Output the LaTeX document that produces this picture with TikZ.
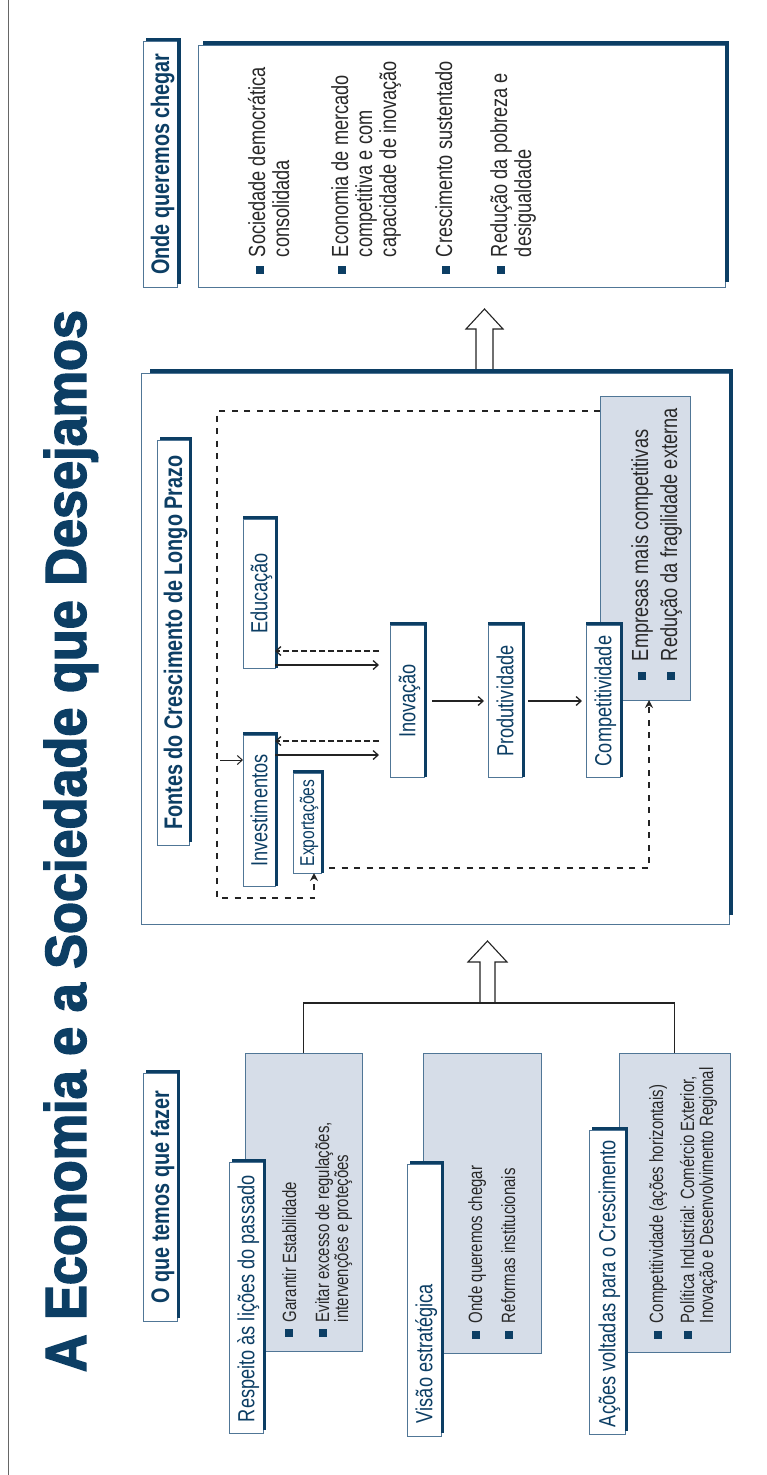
\documentclass[tikz,border=0pt]{standalone}
\usepackage{fontspec}
\usepackage{graphicx}
\setmainfont{Liberation Sans}[FakeStretch=0.78]
\newfontfamily\titlefont{Liberation Sans Bold}[FakeStretch=0.78, FakeBold=2.2]
\usetikzlibrary{arrows.meta}
\definecolor{navy}{RGB}{12,62,100}
\definecolor{bord}{RGB}{80,118,150}
\definecolor{lfill}{RGB}{214,221,232}
\definecolor{tgray}{RGB}{40,40,40}
\definecolor{lgray}{RGB}{35,35,35}
\newcommand\rt[1]{\rotatebox{90}{\rule{0pt}{0.72em}\smash{#1}}}
\newcommand\rtl[2]{\rotatebox{90}{\makebox[#1][l]{\rule{0pt}{0.72em}\smash{#2}}}}
\newcommand\lines[2]{\vtop{\baselineskip=#1\lineskiplimit=-\maxdimen\let\\\cr\halign{##\hfil\cr#2\crcr}}}
\newcommand\shd[3]{\draw[navy, line width=#2pt, line join=miter] ([xshift=#3pt, yshift=#2pt/2]#1.north west) -- ([xshift=#2pt/2, yshift=#2pt/2]#1.north east) -- ([xshift=#2pt/2, yshift=#3pt]#1.south east);}
\newcommand\bul[3]{\fill[navy] (#1-#3/2,#2-#3/2) rectangle (#1+#3/2,#2+#3/2);}
\begin{document}
\begin{tikzpicture}[x=1pt,y=-1pt,
  every node/.style={inner sep=0pt, outer sep=0pt},
  wbox/.style={draw=bord, fill=white, line width=0.9pt, rectangle},
  lbox/.style={draw=bord, fill=lfill, line width=0.9pt, rectangle},
  body/.style={font=\fontsize{23.3}{24}\selectfont, text=tgray},
  small/.style={font=\fontsize{19.2}{19}\selectfont, text=tgray},
  head/.style={font=\bfseries\fontsize{25.4}{26}\selectfont, text=navy},
  lab/.style={font=\fontsize{23.3}{24}\selectfont, text=navy},
  free/.style={rotate=90, anchor=base west},
  conn/.style={draw=lgray, line width=1.3pt},
  sarrow/.style={conn, -{Straight Barb[length=5pt,width=9pt]}},
  darrow/.style={conn, dash pattern=on 6pt off 3pt, -{Straight Barb[length=5pt,width=9pt]}},
  loopline/.style={draw=lgray, line width=2.6pt, dash pattern=on 6pt off 6.5pt},
  block/.style={draw=lgray, fill=white, line width=1.1pt, line join=miter}
]
\useasboundingbox (0,0) rectangle (766,1475);
% left rule
\draw[draw=gray!80!black, line width=1pt] (8,0) -- (8,1475);
% title
\node[font=\titlefont\fontsize{58}{58}\selectfont, text=navy] (title) at (65,841)
  {\rotatebox{90}{\resizebox{1062pt}{\height}{\rule{0pt}{0.72em}\smash{A Economia e a Sociedade que Desejamos}}}};

% ---------- top: Onde queremos chegar ----------
\node[wbox, head, minimum width=34pt, minimum height=246pt] (qhead) at (160,164) {\rt{Onde queremos chegar}};
\shd{qhead}{3.5}{3}
\node[wbox, minimum width=527pt, minimum height=242pt] (qbox) at (461.5,166) {};
\shd{qbox}{4}{5}
\node[body, free] (q1) at (265,257) {\lines{24pt}{Sociedade democrática\\consolidada}};
\node[body, free] (q2) at (348,257) {\lines{24pt}{Economia de mercado\\competitiva e com\\capacidade de inovação}};
\node[body, free] (q3) at (452,257) {Crescimento sustentado};
\node[body, free] (q4) at (507,257) {\lines{24pt}{Redução da pobreza e\\desigualdade}};
\bul{260}{270}{8}\bul{342}{270}{8}\bul{446}{270}{8}\bul{501}{270}{8}

% upper block arrow
\draw[block] (476,371) -- (476,329) -- (466,329) -- (484.5,309) -- (503,329) -- (493,329) -- (493,371) -- cycle;

% ---------- middle: Fontes ----------
\node[wbox, minimum width=588pt, minimum height=551pt] (mid) at (435,648.5) {};
\shd{mid}{4}{9}
\node[wbox, head, minimum width=32pt, minimum height=405pt] (fontes) at (173,642.5) {\rt{Fontes do Crescimento de Longo Prazo}};
\shd{fontes}{3}{3}

\node[lbox, minimum width=90pt, minimum height=304pt] (emp) at (645,548) {};
\node[body, free] (e1) at (648,661) {Empresas mais competitivas};
\node[body, free] (e2) at (677,661) {Redução da fragilidade externa};
\bul{642}{676}{8}\bul{671}{676}{8}

\node[wbox, lab, minimum width=32pt, minimum height=149pt] (edu) at (259,593.5) {\rt{Educação}};
\shd{edu}{3}{0}
\node[wbox, lab, minimum width=32pt, minimum height=151pt] (inv) at (259,810.5) {\rt{Investimentos}};
\shd{inv}{3}{0}
\node[wbox, lab, font=\fontsize{20}{20}\selectfont, minimum width=28pt, minimum height=100pt] (exp) at (307,823) {\rt{Exportações}};
\shd{exp}{3}{0}
\node[wbox, lab, minimum width=34pt, minimum height=152pt] (ino) at (407,701) {\rt{Inovação}};
\shd{ino}{3}{0}
\node[wbox, lab, minimum width=34pt, minimum height=152pt] (prod) at (505,701) {\rt{Produtividade}};
\shd{prod}{3}{0}
\node[wbox, lab, minimum width=34pt, minimum height=152pt] (comp) at (603,701) {\rt{Competitividade}};
\shd{comp}{3}{0}

% helper coordinates
\coordinate (xi) at (379,0);
\coordinate (ya) at (0,651);
\coordinate (yb) at (0,665);
\coordinate (yc) at (0,741);
\coordinate (yd) at (0,755);
\coordinate (lt) at (217,411);
\coordinate (lb) at (217,898);
\coordinate (xa) at (314,0);
\coordinate (ys) at (0,760);
\coordinate (s0) at (220,760);
\coordinate (e0) at (329,868);
\coordinate (xb) at (649,0);

\draw[sarrow] (edu.east |- yb) -- (xi |- yb);
\draw[darrow] (xi |- ya) -- (edu.east |- ya);
\draw[sarrow] (inv.east |- yd) -- (xi |- yd);
\draw[darrow] (xi |- yc) -- (inv.east |- yc);
\draw[sarrow] ([xshift=8pt]ino.east) -- ([xshift=-4pt]prod.west);
\draw[sarrow] ([xshift=6pt]prod.east) -- ([xshift=-4pt]comp.west);
\draw[conn, line width=1pt, -{Straight Barb[length=5pt,width=9pt]}] (s0) -- (inv.west |- ys);

\draw[loopline, -{Stealth[length=8pt,width=8pt]}] (emp.west |- lt) -- (lt) -- (lb) -- (xa |- lb) -- (xa |- exp.south);
\draw[loopline, -{Stealth[length=8pt,width=8pt]}] (e0) -- (xb |- e0) -- (xb |- emp.south);

% lower block arrow
\draw[block] (480,1003) -- (480,962) -- (468,962) -- (487.5,941) -- (507,962) -- (495,962) -- (495,1003) -- cycle;

% ---------- bottom: O que temos que fazer ----------
\node[wbox, head, minimum width=34pt, minimum height=248pt] (ohead) at (160,1197) {\rt{O que temos que fazer}};
\shd{ohead}{3}{3}

\node[lbox, minimum width=117pt, minimum height=298pt] (respL) at (303.5,1202) {};
\node[lbox, minimum width=118pt, minimum height=300pt] (visL) at (482,1203) {};
\node[lbox, minimum width=111pt, minimum height=299pt] (acoL) at (674.5,1202.5) {};

\coordinate (hl) at (0,1003);
\draw[conn] (respL.north) -- (respL.north |- hl) -- (acoL.north |- hl) -- (acoL.north);

\node[wbox, lab, minimum width=34pt, minimum height=271pt] (respT) at (246,1297.5) {\rtl{249pt}{Respeito às lições do passado}};
\shd{respT}{3}{3}
\node[wbox, lab, minimum width=34pt, minimum height=272pt] (visT) at (424,1300) {\rtl{246pt}{Visão estratégica}};
\shd{visT}{3}{3}
\node[wbox, lab, minimum width=36pt, minimum height=304pt] (acoT) at (607,1282) {\rtl{290pt}{Ações voltadas para o Crescimento}};
\shd{acoT}{3}{3}

\node[small, free] (r1) at (296,1322) {Garantir Estabilidade};
\node[small, free] (r2) at (329,1322) {\lines{19pt}{Evitar excesso de regulações,\\intervenções e proteções}};
\bul{289}{1333}{7.5}\bul{323}{1333}{7.5}
\node[small, free] (v1) at (482,1323) {Onde queremos chegar};
\node[small, free] (v2) at (515,1323) {Reformas institucionais};
\bul{476}{1335}{7.5}\bul{509}{1335}{7.5}
\node[small, free] (a1) at (663,1323) {Competitividade (ações horizontais)};
\node[small, free] (a2) at (694,1323) {\lines{19pt}{Política Industrial: Comércio Exterior,\\Inovação e Desenvolvimento Regional}};
\bul{658}{1335}{7.5}\bul{688}{1335}{7.5}
\end{tikzpicture}
\end{document}
